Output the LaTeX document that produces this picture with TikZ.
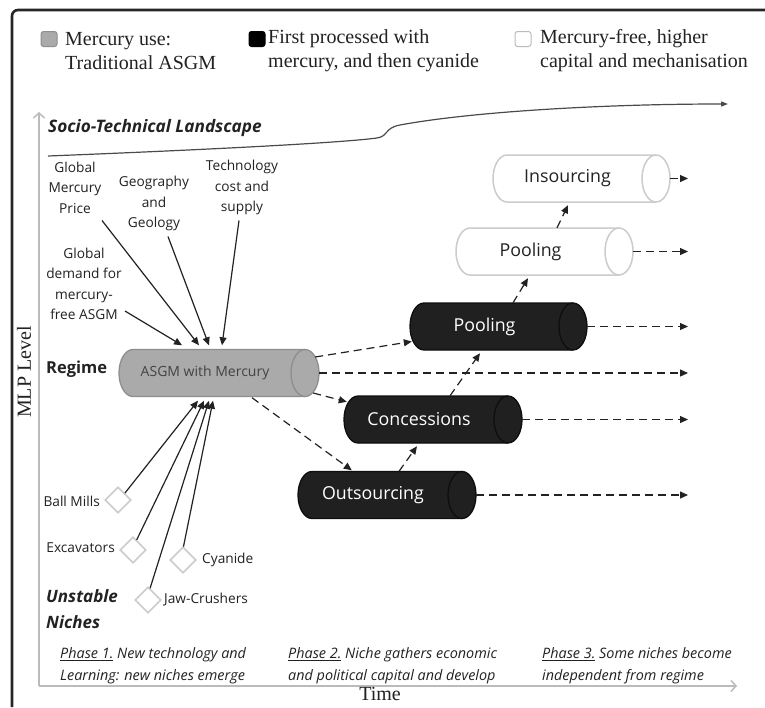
\documentclass[tikz,border=0pt]{standalone}
\usepackage{fontspec}
\setmainfont{Liberation Serif}
\setsansfont{Open Sans}
\usetikzlibrary{arrows.meta,shapes.geometric,calc}
\definecolor{ink}{HTML}{222222}
\definecolor{frame}{HTML}{262626}
\definecolor{axisgray}{HTML}{BBBBBB}
\definecolor{cylgray}{HTML}{AAAAAA}
\definecolor{cylgrayd}{HTML}{8E8E8E}
\definecolor{cylblack}{HTML}{202020}
\definecolor{cylblackd}{HTML}{0E0E0E}
\definecolor{cylwhited}{HTML}{CCCCCC}
\definecolor{landline}{HTML}{4A4A4A}
\newcommand\mycyl[6]{%
  \node[cylbox, minimum width={(#3)-(#2)}] (#1) at ({((#2)+(#3))/2},#4) {};
  \path[#5 body] ({#2+14},{#4-23.5}) -- ({#3-14},{#4-23.5})
     arc[start angle=-90,end angle=90,x radius=14,y radius=23.5]
     -- ({#2+14},{#4+23.5})
     arc[start angle=90,end angle=270,x radius=14,y radius=23.5] -- cycle;
  \draw[#5 cap] ({#3-14},{#4-23.5}) arc[start angle=270,end angle=90,x radius=14,y radius=23.5];
  \node[#5 txt] (#1t) at ({(#2+#3-28)/2},#4) {#6};
}
\begin{document}
\begin{tikzpicture}[x=1pt,y=-1pt,font=\sffamily,
  cylbox/.style={rectangle, inner sep=0, minimum height=47},
  g body/.style={fill=cylgray, draw=cylgrayd, line width=1.3},
  g cap/.style={draw=cylgrayd, line width=1.3},
  g txt/.style={text=ink!85!white, font=\sffamily\fontsize{14}{16}\selectfont, inner sep=0},
  b body/.style={fill=cylblack, draw=cylblackd, line width=1.3},
  b cap/.style={draw=cylblackd, line width=1.3},
  b txt/.style={text=white, font=\sffamily\fontsize{17.8}{20}\selectfont, inner sep=0},
  w body/.style={fill=white, draw=cylwhited, line width=1.5},
  w cap/.style={draw=cylwhited, line width=1.5},
  w txt/.style={text=ink, font=\sffamily\fontsize{17.8}{20}\selectfont, inner sep=0},
  lbl/.style={text=ink, font=\sffamily\fontsize{13.7}{20.5}\selectfont, align=center, inner sep=0},
  nlbl/.style={text=ink, font=\sffamily\fontsize{13.7}{16}\selectfont, inner sep=0},
  legtxt/.style={text=ink, font=\rmfamily\fontsize{20}{24}\selectfont, align=left, inner sep=0, anchor=west},
  legbox/.style={rectangle, rounded corners=2.5, minimum width=16, minimum height=15, inner sep=0, line width=1},
  phase/.style={text=ink, font=\sffamily\itshape\fontsize{14.4}{22}\selectfont, align=left, inner sep=0, anchor=west},
  head/.style={text=ink, font=\sffamily\bfseries\fontsize{16.5}{26}\selectfont, align=left, inner sep=0, anchor=west},
  niche/.style={diamond, draw=cylwhited, fill=white, line width=1.6, minimum width=26, minimum height=26, inner sep=0},
  arr/.style={draw=ink, line width=1.2, -{Triangle[length=8pt,width=7pt]}},
  darr/.style={arr, dash pattern=on 8pt off 5pt},
  axis/.style={draw=axisgray, line width=1.5, -{Straight Barb[length=5pt,width=11pt]}}
]
\useasboundingbox (0,0) rectangle (765,707);
\fill[white] (0,0) rectangle (765,707);
% frame
\draw[frame, line width=2.6, rounded corners=6] (12,707) -- (12,10) -- (765,10);

% legend
\node[legbox, fill=cylgray, draw=cylgrayd] (lg1) at (49,39) {};
\node[legtxt] (lt1) at (65,51) {Mercury use:\\Traditional ASGM};
\node[legbox, fill=black, draw=black] (lg2) at (257,39) {};
\node[legtxt] (lt2) at (268,51) {First processed with\\mercury, and then cyanide};
\node[legbox, fill=white, draw=axisgray] (lg3) at (523,39) {};
\node[legtxt] (lt3) at (540,51) {Mercury-free, higher\\capital and mechanisation};

% axes
\coordinate (org) at (39,686);
\coordinate (ytop) at (39,112);
\coordinate (xend) at (737,686);
\draw[axis] (org) -- (ytop);
\draw[axis] (org) -- (xend);
\node[font=\rmfamily\fontsize{20}{24}\selectfont, text=ink, rotate=90, inner sep=0] (ylab) at (24,372) {MLP Level};
\node[font=\rmfamily\fontsize{20}{24}\selectfont, text=ink, inner sep=0] (xlab) at (380,694) {Time};

% landscape
\node[text=ink, font=\sffamily\bfseries\itshape\fontsize{17.2}{20}\selectfont, inner sep=0, anchor=west] (land) at (48,128) {Socio-Technical Landscape};
\coordinate (ls) at (48,156);
\coordinate (le) at (728,104);
\draw[landline, line width=1.2, -{Triangle[length=7pt,width=5pt]}] (ls) .. controls (200,150) and (340,143) .. (377,138)
   .. controls (389,136) and (384,128) .. (400,125)
   .. controls (470,112) and (600,104) .. (le);

\node[lbl] (gmp) at (75,187.5) {Global\\Mercury\\Price};
\node[lbl] (geo) at (154,203.5) {Geography\\and\\Geology};
\node[lbl] (tech) at (242,187.5) {Technology\\cost and\\supply};
\node[lbl] (gdm) at (84,284) {Global\\demand for\\mercury-\\free ASGM};

% regime
\node[head] (regl) at (46,369) {Regime};
\mycyl{reg}{119}{319}{373}{g}{ASGM with Mercury}

% landscape arrows
\draw[arr] ($(gmp.center)+(27,33)$) -- ($(reg.north)+(-20,-4)$);
\draw[arr] ($(geo.center)+(14,33)$) -- ($(reg.north)+(-10,-4)$);
\draw[arr] ($(tech.center)+(-3,33)$) -- ($(reg.north)+(3,-4)$);
\draw[arr] ($(gdm.center)+(41,27)$) -- ($(reg.north)+(-37,-4)$);

% niches
\node[niche] (bm) at (118,500) {};
\node[niche] (ex) at (133,550) {};
\node[niche] (cy) at (183,560) {};
\node[niche] (jc) at (148,600) {};
\node[nlbl, anchor=east] (bml) at (100,501) {Ball Mills};
\node[nlbl, anchor=east] (exl) at (115,548) {Excavators};
\node[nlbl, anchor=west] (cyl) at (202,560) {Cyanide};
\node[nlbl, anchor=west] (jcl) at (164,600) {Jaw-Crushers};
\node[head, font=\sffamily\bfseries\itshape\fontsize{17}{26}\selectfont] (unst) at (46,609) {Unstable\\Niches};

\draw[arr] (bm.45) -- ($(reg.south)+(-21,4)$);
\draw[arr] (ex.70) -- ($(reg.south)+(-15,4)$);
\draw[arr] (jc.80) -- ($(reg.south)+(-10,4)$);
\draw[arr] (cy.88) -- ($(reg.south)+(-6,4)$);

% niche cylinders
\mycyl{outs}{298}{476}{495}{b}{Outsourcing}
\mycyl{conc}{344}{522}{419.5}{b}{Concessions}
\mycyl{pb}{410}{587}{326.5}{b}{Pooling}
\mycyl{pw}{456}{633}{251.5}{w}{Pooling}
\mycyl{ins}{493}{670}{178.5}{w}{Insourcing}

% dashed connectors
\coordinate (e1) at (688,178.5);
\coordinate (e2) at (688,251.5);
\coordinate (e3) at (688,326.5);
\coordinate (e4) at (688,373);
\coordinate (e5) at (688,419.5);
\coordinate (e6) at (688,495);
\draw[darr] ($(reg.east)+(-4,-16)$) -- ($(pb.west)+(2,15)$);
\draw[darr] (reg.east) -- (e4);
\draw[darr] ($(reg.east)+(-6,20)$) -- ($(conc.north west)+(3,6)$);
\draw[darr] ($(reg.south)+(33,1)$) -- ($(outs.north west)+(54,-1)$);
\draw[darr] ($(outs.north)+(12,0)$) -- ($(conc.south)+(-16,3)$);
\draw[darr] ($(conc.north)+(17,0)$) -- ($(pb.south)+(-18.5,3)$);
\draw[darr] ($(pb.north)+(14.5,0)$) -- ($(pw.south)+(-16.5,3)$);
\draw[darr] ($(pw.north)+(12.5,0)$) -- ($(ins.south)+(-13.5,3)$);
\draw[darr] (ins.east) -- (e1);
\draw[darr] (pw.east) -- (e2);
\draw[darr] (pb.east) -- (e3);
\draw[darr] (conc.east) -- (e5);
\draw[darr] (outs.east) -- (e6);

% phases
\node[phase] (p1) at (60,666) {\underline{Phase 1.} New technology and\\Learning: new niches emerge};
\node[phase] (p2) at (288,666) {\underline{Phase 2.} Niche gathers economic\\and political capital and develop};
\node[phase] (p3) at (542,666) {\underline{Phase 3.} Some niches become\\independent from regime};
\end{tikzpicture}
\end{document}
